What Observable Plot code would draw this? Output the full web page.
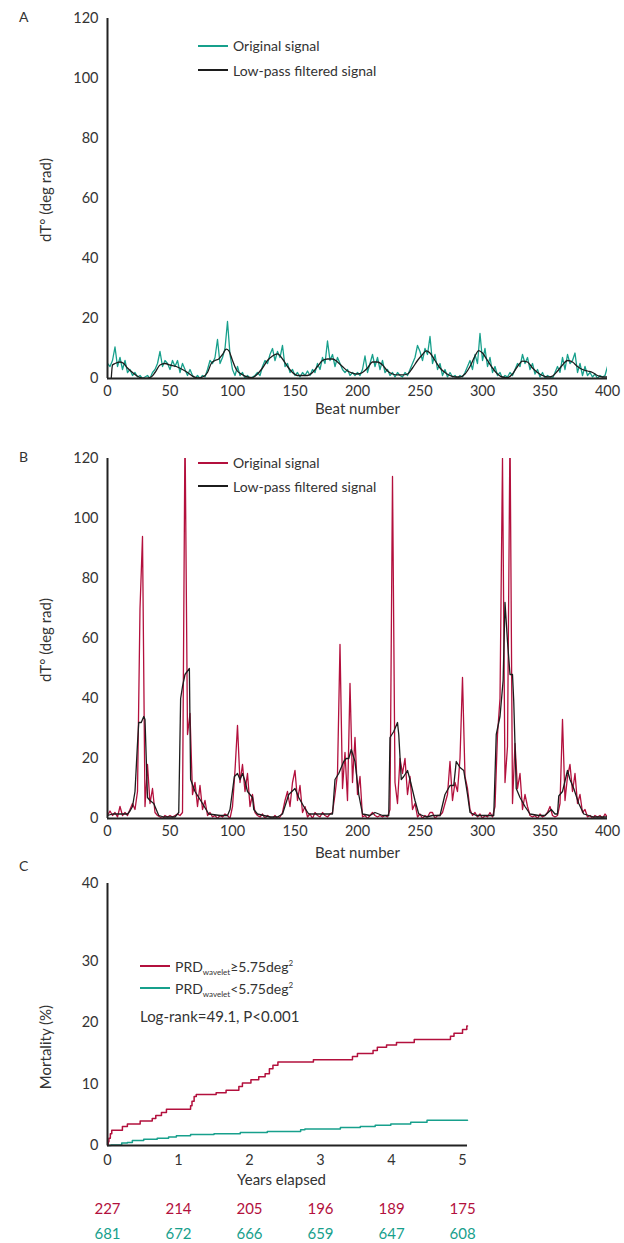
<!DOCTYPE html>
<html><head><meta charset="utf-8">
<script src="https://cdn.jsdelivr.net/npm/d3@7"></script>
<script src="https://cdn.jsdelivr.net/npm/@observablehq/plot@0.6"></script>
<style>
body{margin:0;background:#fff;font-family:Lato,"Open Sans",sans-serif;color:#333}
#wrap{position:relative;width:624px;height:1243px;overflow:hidden}
.panel{position:absolute;left:0}
.abs{position:absolute;white-space:nowrap;line-height:1;transform:translateY(-50%)}
.rot{position:absolute;white-space:nowrap;line-height:1;transform:translate(-50%,-50%) rotate(-90deg)}
.sw{position:absolute;height:2px}
sub{font-size:8px;vertical-align:-3px;line-height:0}
sup{font-size:8px;vertical-align:6px;line-height:0}
</style>
</head><body>
<div id="wrap"></div>
<script>
// ---------- DATA ----------
const beatTicks = [0, 50, 100, 150, 200, 250, 300, 350, 400];
const dtTicks = [0, 20, 40, 60, 80, 100, 120];
// Panel A original signal, beats 0..400 every 2 beats
const origA = [
  5,4,6,10.5,4,7,3,6,2,3,
  1,2,0.5,1,0,0.5,1,0,2,3,
  5,9,4,6,5,3,6,4,6,2,
  5,3,1,3,1,0,1,0,1,0.5,
  3,6,5,7,13,5,7,10,19,8,
  3,1,4,1,2,0,1,0,0.5,1,
  2,1,4,6,5,8,10,6,9,7,
  11,4,5,2,3,1,2,0.5,2,1,
  2.5,1,3,2,5,3,7,5,12.5,6,
  8,4,7,5,3,2,3,1,2,1,
  2,1,3,7.5,2,5,8,4,7,3,
  6,2,3,1,2,0.5,2,1,0.5,2,
  1,3,5,7,11,9,6,10,8,14,
  5,8,3,5,1,3,0.5,2,0.5,1,
  0,1,0.5,2,4,6,3,8,5,15,
  6,10,4,7,2,4,1,2,0,1,
  0.5,2,1,3,5,4,8,5,7,3,
  5,1.5,3,0.5,2,0,1,0.5,0,2,
  4,2,7,3,8,5,6,8.5,2,5,
  1,4,1,2,0.5,1.5,0,1,0.5,1,
  4
];
// Panel A low-pass filtered signal [beat, value]
const filtA = [[3,0],[4,4.5],[6,5],[10,5.5],[13,5],[16,3.5],[20,2],[25,0.5],[30,0],[35,0.5],[38,2],[42,4.5],[46,5],[50,4.5],[55,4],[60,3],[64,2],[68,0.8],[72,0.2],[76,0.5],[80,2],[83,5],[86,6],[89,6.5],[92,8],[95,9.8],[97,9.3],[100,6],[103,3],[107,1.5],[112,0.5],[116,0.3],[120,1.5],[124,3.5],[128,6],[132,7.5],[136,8.2],[140,6.5],[144,4],[148,2],[152,1],[156,1],[160,1],[164,2],[168,4],[172,6],[176,6.5],[180,6.5],[184,5.5],[188,4],[192,2.5],[196,1.8],[200,1.5],[204,2],[208,3.5],[212,5.5],[216,5.5],[220,4.5],[224,2.5],[228,1.5],[232,1.2],[236,1.2],[240,1.5],[244,3.5],[248,6],[252,8],[255,9.2],[258,8.5],[262,6],[266,3.5],[270,2],[274,1],[278,0.5],[282,0.5],[286,1.5],[290,4],[294,7.5],[297,9.3],[300,8.5],[304,6],[308,3.5],[312,1.5],[316,0.5],[320,0.3],[324,1.5],[328,4],[332,5.8],[336,5.5],[340,3.5],[344,2],[348,1],[352,0.5],[356,0.8],[360,2.5],[364,4.5],[368,6],[372,5.5],[376,4],[380,3],[384,2.5],[388,2],[392,1],[396,0.5],[400,0.5]];
// Panel B original signal, beats 0..400 every 2 beats (values above 120 are cut off)
const origB = [
  1,2.5,1,2,0.5,4,1,2,1,3,
  5,3,9,70,94,4,18,5,10,2,
  1,0.5,0,1,0.5,1,0.5,1,1.5,1,
  2,130,28,35,8,12,4,11,3,6,
  1,2,0.5,1,0,1,0.5,1.5,1,0,
  4,16,31,12,18,9,15,4,8,2,
  1,0.5,1.5,0,1,0.5,0,1,0,0.5,
  2,6,9,4,12,16,6,11,2,4,
  0.5,1.5,0,2,1,0.5,2,1,0.5,1.5,
  2,8,15,58,10,22,6,45,12,27,
  8,14,0.5,1,0,1,2,1,0.5,1,
  0.5,1,0.5,3,114,12,5,20,15,20,
  8,14,3,5,0.5,1.5,0,1,0.5,2,
  2,0,1,1,2,5,8,19,6,12,
  9,20,47,14,10,3,1,2,0.5,1.5,
  0,1,0.5,2,0.5,4,28,40,120,12,
  24,130,5,25,10,15,3,8,4,1,
  0.5,1,0,1.5,0.5,1,2,4,1,0.5,
  1,5,33,6,14,18,9,15,5,8,
  2,3,0.5,1,0,1,0.5,1,0,1.5,
  0.5
];
// Panel B low-pass filtered signal [beat, value]
const filtB = [[0,1],[4,1.5],[10,1.5],[16,1.5],[18,2.5],[20,4],[22,9],[24,25],[25,32],[27,32],[29,34],[30,33],[32,7],[34,6],[37,5],[41,1],[45,0.5],[50,0.5],[54,0.5],[57,2],[58.5,40],[60,44],[62,48],[65.5,50],[66.5,13],[70,9],[73,7],[76,5],[81,1.5],[90,1],[96,1],[98,3],[101.5,14],[104,15],[106,13],[108,15],[110,12.5],[112,9],[116,7],[117,3],[120,1.5],[130,0.5],[136,0.5],[140,1.5],[145,8],[150,10],[153,7],[157,4],[161,1.5],[170,1.5],[180,1.5],[182,13],[185,15],[189,19],[191,20],[193,20],[195,23],[198,19],[201,8],[204,1.5],[210,1],[214,2],[220,1],[225,1],[226,27],[229,29],[232,32],[233,28],[235,13],[237,14],[240,16],[242,13],[246,6],[249,1.5],[255,0.5],[260,1],[266,1],[270,8],[274,11],[277,11],[279,19],[282,17],[285,16],[288,8],[290,2],[295,1],[300,1],[309,1],[311,28],[314,34],[316.5,46],[318,72],[320,59],[322,48],[324,48],[325,39],[327,10],[330,7],[334,4],[338,1.5],[345,1],[350,1],[355,3],[358,1.5],[360,1.5],[361,7.5],[364,9],[368,16],[370,13],[373,10],[377,5],[381,1.5],[389,0.5],[400,0.5]];
// Panel C Kaplan-Meier mortality [years, %]
const kmHigh = [[0,0],[0.01,0.6],[0.02,1.2],[0.04,1.9],[0.06,2.5],[0.21,3.1],[0.28,3.5],[0.46,4.0],[0.63,4.4],[0.68,4.9],[0.76,5.4],[0.83,5.9],[1.17,6.5],[1.19,7.2],[1.22,8.0],[1.25,8.3],[1.53,8.6],[1.67,9.0],[1.85,9.6],[1.9,10.2],[2.02,10.7],[2.13,11.2],[2.22,11.7],[2.28,12.5],[2.33,13.1],[2.4,13.6],[2.9,14.0],[3.45,14.5],[3.52,15.0],[3.74,15.5],[3.8,16.0],[3.93,16.4],[4.07,16.8],[4.32,17.3],[4.83,17.8],[4.88,18.3],[5.0,18.9],[5.06,19.5],[5.07,19.5]];
const kmLow = [[0,0],[0.05,0.1],[0.2,0.4],[0.28,0.5],[0.35,0.8],[0.51,1.0],[0.7,1.2],[0.86,1.4],[0.97,1.6],[1.17,1.8],[1.5,1.9],[1.87,2.1],[2.25,2.3],[2.72,2.55],[2.78,2.7],[3.28,2.95],[3.56,3.1],[3.77,3.3],[3.99,3.5],[4.27,3.8],[4.5,4.1],[5.07,4.1]];
const yearTicks = [0, 1, 2, 3, 4, 5];
const mortTicks = [0, 10, 20, 30, 40];
const riskHigh = [227, 214, 205, 196, 189, 175];
const riskLow = [681, 672, 666, 659, 647, 608];
const legendSignal = ["Original signal", "Low-pass filtered signal"];

// ---------- STYLE ----------
const TEAL = "#17a08c", CRIMSON = "#b3103d", INK = "#1c1c1c", AX = "#222", TXT = "#333";
const FONT = "Lato, 'Open Sans', sans-serif";
const wrap = document.getElementById("wrap");

const beatsGrid = d3.range(0, 401, 2);
function seriesOf(vals) { return vals.map((v, i) => ({beat: beatsGrid[i], v})); }

function signalPanel(orig, filt, color, curve, labelDy) {
  return Plot.plot({
    width: 624, height: 420,
    marginLeft: 107, marginRight: 17, marginTop: 18, marginBottom: 42,
    style: {fontFamily: FONT, fontSize: "14.5px", color: TXT, background: "transparent", overflow: "visible"},
    x: {domain: [0, 400], ticks: beatTicks, tickFormat: d => d, tickSize: 0, tickPadding: 7, label: null},
    y: {domain: [0, 120], ticks: dtTicks, tickFormat: d => d, tickSize: 0, tickPadding: 9, label: null},
    marks: [
      Plot.line(seriesOf(orig), {x: "beat", y: "v", stroke: color, strokeWidth: 1.3, clip: true}),
      Plot.line(filt, {x: d => d[0], y: d => d[1], stroke: INK, strokeWidth: 1.3, curve, clip: true}),
      Plot.ruleX([0], {stroke: AX, strokeWidth: 2}),
      Plot.ruleY([0], {stroke: AX, strokeWidth: 2}),
      Plot.text(["Beat number"], {text: d => d, frameAnchor: "bottom", lineAnchor: "middle", dy: labelDy, fontSize: 15, fill: TXT})
    ]
  });
}

function place(el, top) {
  el.classList.add("panel");
  el.style.top = top + "px";
  wrap.appendChild(el);
}
function label(html, x, y, size, color, cls) {
  const d = document.createElement("div");
  d.className = cls || "abs";
  d.innerHTML = html;
  d.style.left = x + "px"; d.style.top = y + "px";
  d.style.fontSize = size + "px"; d.style.color = color || TXT;
  wrap.appendChild(d);
}
function swatch(x, y, w, color) {
  const d = document.createElement("div");
  d.className = "sw";
  d.style.left = x + "px"; d.style.top = (y - 1) + "px"; d.style.width = w + "px";
  d.style.background = color;
  wrap.appendChild(d);
}

place(signalPanel(origA, filtA, TEAL, "monotone-x", 31), 0);
place(signalPanel(origB, filtB, CRIMSON, "linear", 35), 440);

const panelC = Plot.plot({
  width: 624, height: 383,
  marginLeft: 107, marginRight: 157, marginTop: 23, marginBottom: 98,
  style: {fontFamily: FONT, fontSize: "14.5px", color: TXT, background: "transparent", overflow: "visible"},
  x: {domain: [0, 5.07], ticks: yearTicks, tickFormat: d => d, tickSize: 0, tickPadding: 9, label: null},
  y: {type: "linear", domain: [0, 30, 40], range: [285, 101, 23], ticks: mortTicks, tickFormat: d => d, tickSize: 0, tickPadding: 9, label: null},
  marks: [
    Plot.line(kmLow, {x: d => d[0], y: d => d[1], stroke: TEAL, strokeWidth: 1.5, curve: "step-after"}),
    Plot.line(kmHigh, {x: d => d[0], y: d => d[1], stroke: CRIMSON, strokeWidth: 1.5, curve: "step-after"}),
    Plot.ruleX([0], {stroke: AX, strokeWidth: 2}),
    Plot.ruleY([0], {stroke: AX, strokeWidth: 2}),
    Plot.text(["Years elapsed"], {text: d => d, frameAnchor: "bottom", lineAnchor: "middle", dy: 35, dx: -6, fontSize: 15, fill: TXT}),
    Plot.text(yearTicks, {x: d => d, text: (d, i) => riskHigh[i], frameAnchor: "bottom", lineAnchor: "middle", dy: 64, fontSize: 15, fill: CRIMSON}),
    Plot.text(yearTicks, {x: d => d, text: (d, i) => riskLow[i], frameAnchor: "bottom", lineAnchor: "middle", dy: 89, fontSize: 15, fill: TEAL})
  ]
});
place(panelC, 860);

// axis titles (rotated)
label("dT° (deg rad)", 45, 200, 15, TXT, "rot");
label("dT° (deg rad)", 45, 640, 15, TXT, "rot");
label("Mortality (%)", 45, 1047, 15, TXT, "rot");

// panel letters
label("A", 19, 17, 14);
label("B", 19, 457, 14);
label("C", 19, 866, 14);

// legends A & B
swatch(198, 46, 30, TEAL);
swatch(198, 70, 30, INK);
label(legendSignal[0], 233, 46, 14);
label(legendSignal[1], 233, 71, 14);
swatch(198, 463, 30, CRIMSON);
swatch(198, 486, 30, INK);
label(legendSignal[0], 233, 463, 14);
label(legendSignal[1], 233, 487, 14);

// legend C
swatch(140, 966, 30, CRIMSON);
swatch(140, 988, 30, TEAL);
label("PRD<sub>wavelet</sub>≥5.75deg<sup>2</sup>", 175, 967, 14);
label("PRD<sub>wavelet</sub>&lt;5.75deg<sup>2</sup>", 175, 989, 14);
label("Log-rank=49.1, P&lt;0.001", 140, 1016, 15);
</script>
</body></html>
